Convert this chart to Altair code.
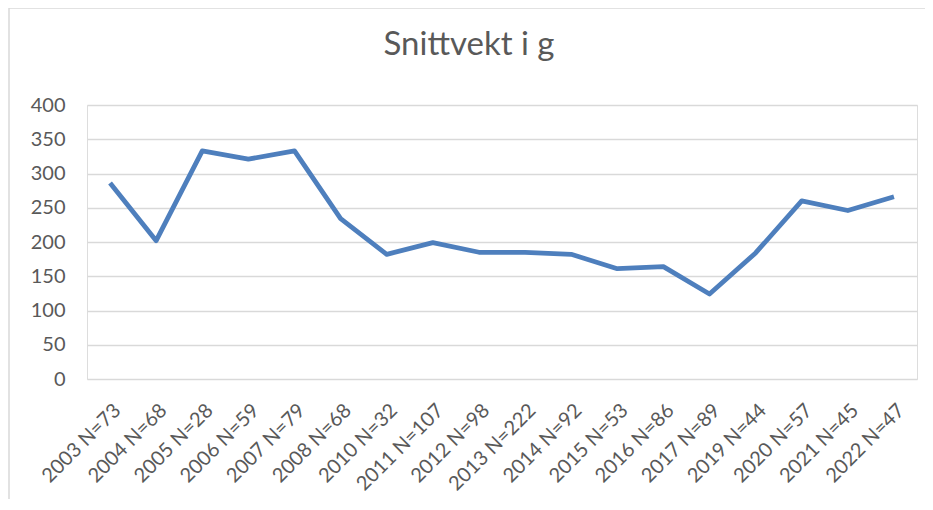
import altair as alt
import pandas as pd

categories = ["2003 N=73", "2004 N=68", "2005 N=28", "2006 N=59", "2007 N=79",
              "2008 N=68", "2010 N=32", "2011 N=107", "2012 N=98", "2013 N=222",
              "2014 N=92", "2015 N=53", "2016 N=86", "2017 N=89", "2019 N=44",
              "2020 N=57", "2021 N=45", "2022 N=47"]
values = [286, 202, 333, 321, 333, 234, 182, 199, 185, 185, 182, 161, 164, 124,
          184, 260, 246, 266]
y_ticks = [0, 50, 100, 150, 200, 250, 300, 350, 400]
title_text = "Snittvekt i g"

df = pd.DataFrame({"kategori": categories, "snittvekt": values})

FONT = "Lato"
GRAY = "#595959"
GRID = "#d9d9d9"

W, H = 830, 274

line = alt.Chart(df).mark_line(color="#4e7fbd", strokeWidth=4.8, strokeJoin="round").encode(
    x=alt.X("kategori:N", sort=categories,
            scale=alt.Scale(paddingInner=0, paddingOuter=0),
            axis=alt.Axis(title=None, labelAngle=-45, labelFont=FONT, labelFontSize=20,
                          labelColor=GRAY, ticks=False, domain=False, grid=False,
                          labelPadding=21, labelAlign="right", labelBaseline="top")),
    y=alt.Y("snittvekt:Q", scale=alt.Scale(domain=[0, 400], nice=False),
            axis=alt.Axis(title=None, values=y_ticks, labelFont=FONT, labelFontSize=20,
                          labelColor=GRAY, ticks=False, domain=False, gridColor=GRID,
                          gridWidth=1.4, labelPadding=22)),
)

one = pd.DataFrame({"t": [title_text]})
frame = alt.Chart(one).mark_rect(fill=None, stroke=GRID, strokeWidth=1.5).encode(
    x=alt.value(-78), x2=alt.value(W + 60), y=alt.value(-97), y2=alt.value(H + 180)
)
title = alt.Chart(one).mark_text(font=FONT, fontSize=33, color=GRAY, align="center",
                                 baseline="alphabetic").encode(
    text="t:N", x=alt.value(382), y=alt.value(-50)
)

chart = alt.layer(frame, title, line).properties(
    width=W, height=H,
    autosize=alt.AutoSizeParams(type="none"),
    padding={"left": 79, "top": 97, "right": 8, "bottom": 120},
).configure_view(stroke=None).configure(background="white")

chart.save("out.html", embed_options={"renderer": "svg", "actions": False})
